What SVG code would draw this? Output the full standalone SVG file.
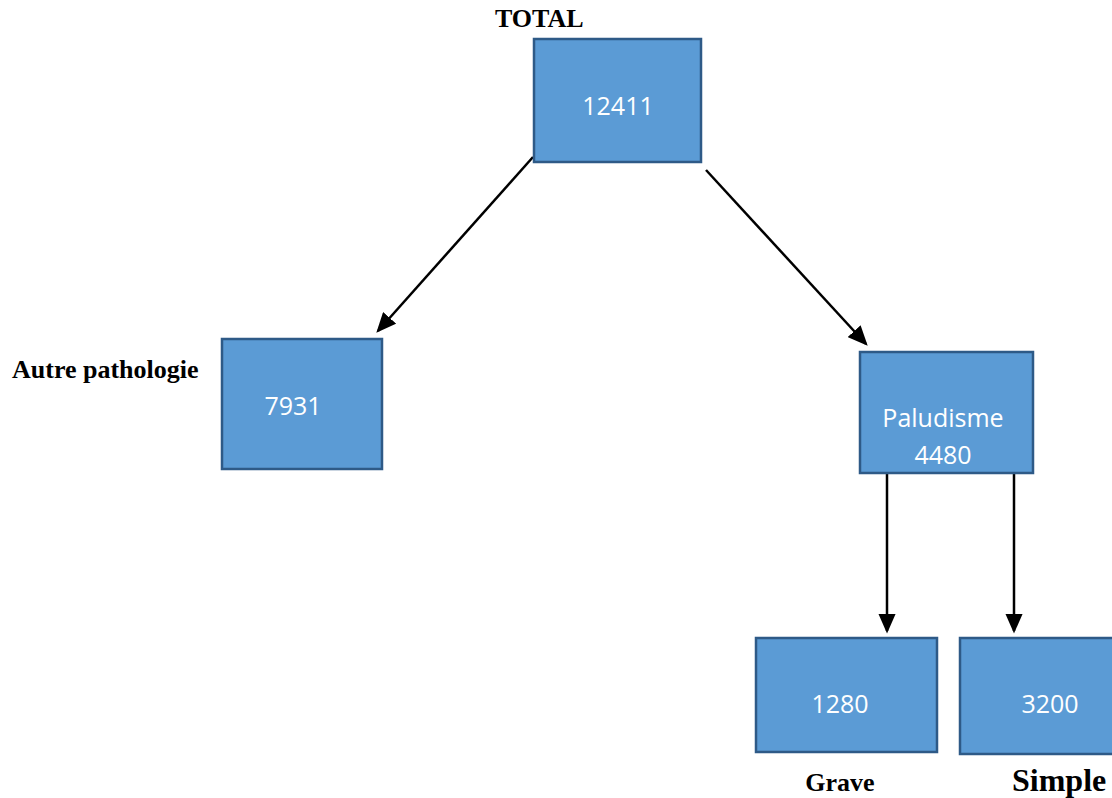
<svg xmlns="http://www.w3.org/2000/svg" width="1112" height="798" viewBox="0 0 1112 798">
<style>
.box{fill:#5b9bd5;stroke:#2e5a87;stroke-width:2.5}
.num{font-family:"Open Sans","Noto Sans",sans-serif;font-size:25px;fill:#fff;text-anchor:middle}
.lbl{font-family:"Liberation Serif",serif;font-weight:bold;font-size:26px;fill:#000}
.conn{stroke:#000;stroke-width:2.5;fill:none;marker-end:url(#ah)}
</style>
<defs>
<marker id="ah" markerWidth="8" markerHeight="7" refX="7" refY="3.5" orient="auto" markerUnits="strokeWidth">
<path d="M0,0 L8,3.5 L0,7 Z" fill="#000"/>
</marker>
</defs>
<rect width="1112" height="798" fill="#fff"/>
<g id="connectors">
<line class="conn" x1="533" y1="157" x2="378" y2="331"/>
<line class="conn" x1="706" y1="170" x2="866" y2="344"/>
<line class="conn" x1="887" y1="474" x2="887" y2="631"/>
<line class="conn" x1="1014" y1="474" x2="1014" y2="631"/>
</g>
<g id="total">
<text class="lbl" x="495" y="27">TOTAL</text>
<rect class="box" x="534" y="39" width="167" height="123"/>
<text class="num" x="618" y="115">12411</text>
</g>
<g id="autre">
<text class="lbl" x="12" y="378">Autre pathologie</text>
<rect class="box" x="222" y="339" width="160" height="130"/>
<text class="num" x="293" y="415">7931</text>
</g>
<g id="paludisme">
<rect class="box" x="860" y="352" width="173" height="121"/>
<text class="num" x="943" y="427">Paludisme</text>
<text class="num" x="943" y="464">4480</text>
</g>
<g id="grave">
<rect class="box" x="756" y="638" width="181" height="114"/>
<text class="num" x="840" y="713">1280</text>
<text class="lbl" x="840" y="791" text-anchor="middle">Grave</text>
</g>
<g id="simple">
<rect class="box" x="960" y="638" width="170" height="116"/>
<text class="num" x="1050" y="713">3200</text>
<text class="lbl" x="1012" y="791" style="font-size:32px">Simple</text>
</g>
</svg>
